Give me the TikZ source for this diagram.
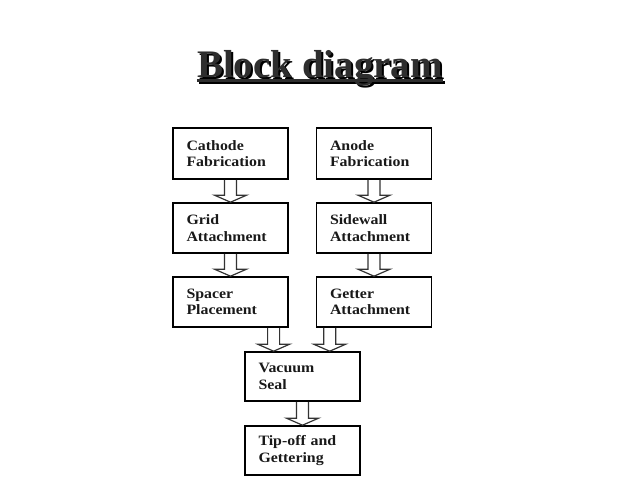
\documentclass[tikz,border=0pt]{standalone}
\usepackage{fontspec}
\setmainfont{Liberation Serif}
\newfontfamily\boxfont[FakeStretch=1.11]{Liberation Serif}
\usetikzlibrary{calc}
\tikzset{
  stepbox/.style={draw=black, line width=1.6pt, rectangle, minimum width=115pt, minimum height=50pt,
    inner xsep=13.5pt, inner ysep=0pt, text width=88pt, align=left,
    font=\boxfont\bfseries\fontsize{14.3}{16.5}\selectfont, text=black!90},
  arrowline/.style={draw=black!80, line width=1.2pt, line join=miter},
  titletext/.style={font=\bfseries\fontsize{39}{45}\selectfont, inner sep=0pt, anchor=base},
  underline/.style={line width=2.4pt}
}
\newcommand\blockarrow[2]{%
  \draw[arrowline] let \p1=(#1), \p2=(#2) in
    (\x1-6pt,\y1) -- (\x1-6pt,\y2+7pt) -- (\x1-16pt,\y2+7pt) -- (\x1,\y2)
    -- (\x1+16pt,\y2+7pt) -- (\x1+6pt,\y2+7pt) -- (\x1+6pt,\y1);}
\begin{document}
\begin{tikzpicture}[x=1pt,y=-1pt]
\useasboundingbox (0,0) rectangle (638,479);
\fill[white] (0,0) rectangle (638,479);
% title with shadow and underline
\node[titletext, text=black] (titleshadow) at (322,79) {Block diagram};
\draw[underline, black] ($(titleshadow.base west)+(0,3.5)$) -- ($(titleshadow.base east)+(0,3.5)$);
\node[titletext, text=black!82] (title) at (320,77) {Block diagram};
\draw[underline, black!82] ($(title.base west)+(0,3.5)$) -- ($(title.base east)+(0,3.5)$);
% boxes
\node[stepbox, minimum height=51pt] (cathode) at (230.5,153.5) {Cathode\\Fabrication};
\node[stepbox, minimum height=51pt] (anode) at (374,153.5) {Anode\\Fabrication};
\node[stepbox] (grid) at (230.5,228) {Grid\\Attachment};
\node[stepbox] (sidewall) at (374,228) {Sidewall\\Attachment};
\node[stepbox] (spacer) at (230.5,302) {Spacer\\Placement};
\node[stepbox] (getter) at (374,302) {Getter\\Attachment};
\node[stepbox, minimum height=49pt] (vacuum) at (302.5,376.5) {Vacuum\\Seal};
\node[stepbox, minimum height=49pt] (tipoff) at (302.5,450.5) {Tip-off and\\Gettering};
% arrows
\blockarrow{cathode.south}{grid.north}
\blockarrow{anode.south}{sidewall.north}
\blockarrow{grid.south}{spacer.north}
\blockarrow{sidewall.south}{getter.north}
\coordinate (sp) at ($(spacer.south west)!0.87!(spacer.south east)$);
\coordinate (gt) at ($(getter.south west)!0.12!(getter.south east)$);
\blockarrow{sp}{sp |- vacuum.north}
\blockarrow{gt}{gt |- vacuum.north}
\blockarrow{vacuum.south}{tipoff.north}
\end{tikzpicture}
\end{document}
